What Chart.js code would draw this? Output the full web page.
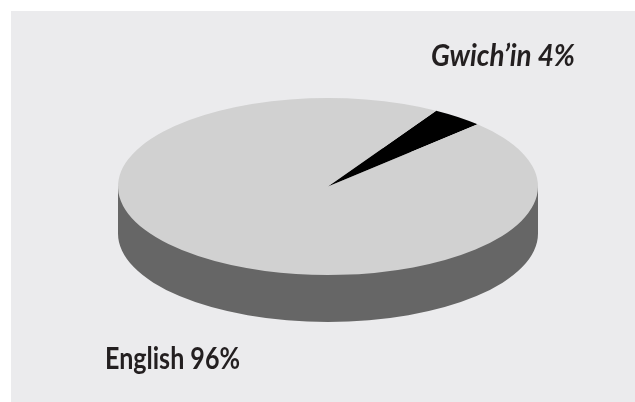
<!DOCTYPE html>
<html>
<head>
<meta charset="utf-8">
<style>
html,body{margin:0;padding:0;background:#fff;}
#wrap{position:absolute;left:0;top:0;width:635px;height:402px;}
canvas{display:block;}
</style>
<script src="https://cdn.jsdelivr.net/npm/chart.js@4/dist/chart.umd.min.js"></script>
</head>
<body>
<div id="wrap"><canvas id="c" width="635" height="402"></canvas></div>
<script>
const categories = ["Gwich\u2019in 4%", "English 96%"];
const shares = [4, 96];
const sliceColors = ["#000000", "#d1d1d1"];

const PANEL = {x: 11, y: 11, color: "#ebebed"};
const DISC = {cx: 328, cy: 186.5, rx: 210, ry: 88.5, depth: 47, side: "#666666"};
const LABELS = [
  {x: 431, y: 66, w: 144, font: "italic bold 30px Lato"},
  {x: 105, y: 369, w: 135, font: "bold 30px Lato"}
];

const tilted = {
  id: "tilted",
  beforeDraw(chart) {
    const c = chart.ctx;
    c.save();
    c.fillStyle = PANEL.color;
    c.fillRect(PANEL.x, PANEL.y, chart.width - PANEL.x, chart.height - PANEL.y);
    c.restore();
  },
  beforeDatasetsDraw(chart) {
    const c = chart.ctx;
    const arc = chart.getDatasetMeta(0).data[0];
    c.save();
    c.fillStyle = DISC.side;
    c.beginPath();
    c.ellipse(DISC.cx, DISC.cy + DISC.depth, DISC.rx, DISC.ry, 0, 0, Math.PI * 2);
    c.rect(DISC.cx - DISC.rx, DISC.cy, DISC.rx * 2, DISC.depth);
    c.fill("nonzero");
    c.restore();
    c.save();
    c.translate(DISC.cx, DISC.cy);
    c.scale(DISC.rx / arc.outerRadius, DISC.ry / arc.outerRadius);
    c.translate(-arc.x, -arc.y);
  },
  afterDatasetsDraw(chart) {
    const c = chart.ctx;
    c.restore();
    c.save();
    c.fillStyle = "#231f20";
    c.textBaseline = "alphabetic";
    c.textAlign = "left";
    chart.data.labels.forEach((t, i) => {
      c.font = LABELS[i].font;
      c.fillText(t, LABELS[i].x, LABELS[i].y, LABELS[i].w);
    });
    c.restore();
  }
};

new Chart(document.getElementById("c"), {
  type: "pie",
  data: {
    labels: categories,
    datasets: [{data: shares, backgroundColor: sliceColors, borderWidth: 0}]
  },
  options: {
    responsive: false,
    animation: false,
    rotation: 31,
    layout: {padding: 0},
    plugins: {legend: {display: false}, tooltip: {enabled: false}}
  },
  plugins: [tilted]
});
</script>
</body>
</html>
